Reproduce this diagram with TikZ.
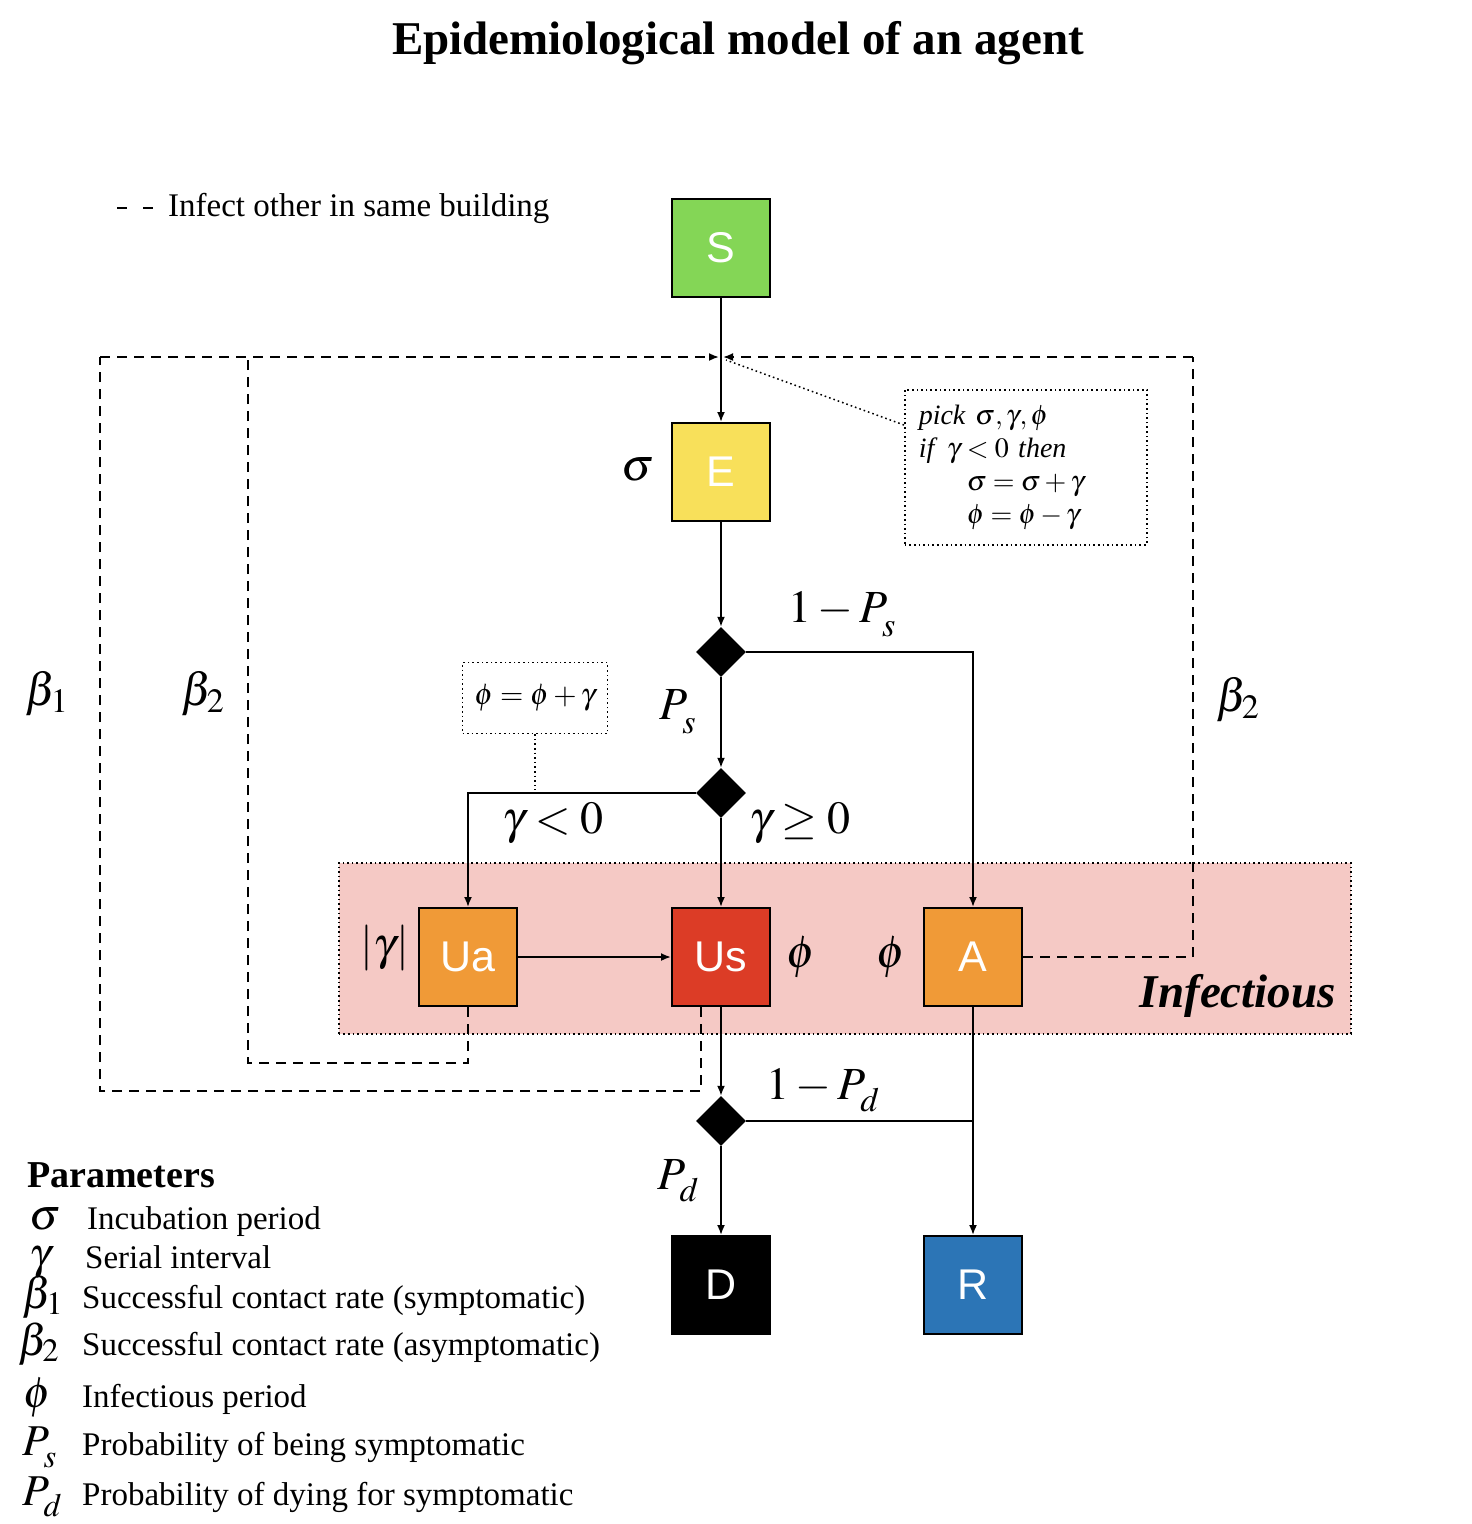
\documentclass[tikz,border=0pt]{standalone}
\usepackage{mathptmx}
\usepackage{fontspec}
\setmainfont{Liberation Serif}
\newfontfamily\boxfont{Liberation Sans}
\usetikzlibrary{arrows.meta,shapes.geometric,calc}
\definecolor{cS}{HTML}{84D656}
\definecolor{cE}{HTML}{F8E05A}
\definecolor{cO}{HTML}{F09A37}
\definecolor{cUs}{HTML}{DC3C26}
\definecolor{cR}{HTML}{2C75B6}
\definecolor{cPink}{HTML}{F5C9C5}
\newcommand{\lowsub}[2]{#1_{\lower#2\hbox{$\scriptstyle #1$}}}
\newcommand{\Psub}[2]{P_{\lower#2\hbox{$\scriptstyle #1$}}}
\tikzset{
  statebox/.style={draw=black, line width=2pt, minimum width=98pt, minimum height=98pt, inner sep=0pt, text=white, font=\boxfont\fontsize{43}{43}\selectfont},
  choice/.style={diamond, aspect=1, fill=black, minimum width=50pt, minimum height=50pt, inner sep=0pt},
  flow/.style={line width=1.8pt, -{Latex[length=10pt,width=8pt]}},
  plainflow/.style={line width=1.8pt},
  infect/.style={line width=1.8pt, dash pattern=on 10pt off 7pt},
  infectarrow/.style={infect, -{Latex[length=10pt,width=8pt]}},
  dotline/.style={line width=1.5pt, dash pattern=on 1.6pt off 3pt},
  mlab/.style={font=\fontsize{46}{50}\selectfont, inner sep=0pt},
  legtext/.style={font=\fontsize{33}{38}\selectfont, anchor=base west, inner sep=0pt},
  legsym/.style={font=\fontsize{44}{48}\selectfont, anchor=base west, inner sep=0pt},
}
\begin{document}
\begin{tikzpicture}[x=1pt,y=-1pt]
\useasboundingbox (0,0) rectangle (1472,1524);
% title
\node[font=\bfseries\fontsize{47}{52}\selectfont, inner sep=0pt] (title) at (738,43) {Epidemiological model of an agent};
% legend for dashed line
\coordinate (lg1) at (117,208);
\coordinate (lg2) at (153,208);
\draw[line width=1.8pt, dash pattern=on 10pt off 16pt] (lg1) -- (lg2);
\node[font=\fontsize{33}{38}\selectfont, anchor=west, inner sep=0pt] (lgt) at (168,208) {Infect other in same building};
% infectious region
\node[draw=black, fill=cPink, dotline, minimum width=1012pt, minimum height=171pt, anchor=north west, inner sep=0pt] (inf) at (338,862) {};
\node[font=\bfseries\itshape\fontsize{47}{50}\selectfont, anchor=east, inner sep=0pt] (inflab) at (1336,996) {Infectious};
% nodes
\node[statebox, fill=cS] (S) at (721,248) {S};
\node[statebox, fill=cE] (E) at (721,472) {E};
\node[choice] (d1) at (721,652) {};
\node[choice] (d2) at (721,793) {};
\node[statebox, fill=cO] (Ua) at (468,957) {Ua};
\node[statebox, fill=cUs] (Us) at (721,957) {Us};
\node[statebox, fill=cO] (A) at (973,957) {A};
\node[choice] (d3) at (721,1121) {};
\node[statebox, fill=black] (D) at (721,1285) {D};
\node[statebox, fill=cR] (R) at (973,1285) {R};
\coordinate (m) at (721,357);
% dashed infection paths
\draw[infect] ($(Us.south)+(-20,0)$) -- ++(0,84) coordinate (o1) -| (100,357) coordinate (o2);
\draw[infectarrow] (o2) -- ($(m)+(-2,0)$);
\draw[infect] (Ua.south) -- ++(0,56) coordinate (i1) -| (248,357);
\draw[infect] (A.east) -| (1193,357) coordinate (r1);
\draw[infectarrow] (r1) -- ($(m)+(2,0)$);
% solid flows
\draw[flow] (S.south) -- (E.north);
\draw[flow] (E.south) -- (d1.north);
\draw[flow] (d1.east) -| (A.north);
\draw[flow] (d1.south) -- (d2.north);
\draw[flow] (d2.west) -| (Ua.north);
\draw[flow] (d2.south) -- (Us.north);
\draw[flow] (Ua.east) -- (Us.west);
\draw[flow] (Us.south) -- (d3.north);
\draw[flow] (A.south) -- (R.north);
\draw[plainflow] (d3.east) -- (d3.east -| A.south);
\draw[flow] (d3.south) -- (D.north);
% note boxes
\node[draw=black, dotline, anchor=north west, minimum width=242pt, minimum height=155pt, text width=214pt, inner xsep=14pt, inner ysep=0pt, align=left, font=\fontsize{28}{33}\selectfont] (note) at (904,389)
 {\textit{pick} $\sigma,\gamma,\phi$\\
  \textit{if} $\gamma<0$ \textit{then}\\
  \hspace*{48pt}$\sigma=\sigma+\gamma$\\
  \hspace*{48pt}$\phi=\phi-\gamma$};
\draw[dotline] ($(note.north west)+(0,36)$) -- ($(m)+(5,3)$);
\node[draw=black, dotline, minimum width=145pt, minimum height=71pt, inner sep=0pt, font=\fontsize{30}{34}\selectfont] (phibox) at (535,698) {$\phi=\phi+\gamma$};
\draw[dotline] (phibox.south) -- ($(phibox.south)+(0,56)$);
% labels
\node[mlab] (lsig) at (638,470) {$\sigma$};
\node[mlab] (l1ps) at (842,614) {$1-\Psub{s}{7pt}$};
\node[mlab] (lps) at (678,712) {$\Psub{s}{7pt}$};
\node[mlab] (lgl) at (553,823) {$\gamma<0$};
\node[mlab] (lgg) at (800,823) {$\gamma\geq 0$};
\node[mlab] (lag) at (385,948) {$|\gamma|$};
\node[mlab] (lph1) at (801,957) {$\phi$};
\node[mlab] (lph2) at (891,957) {$\phi$};
\node[mlab] (l1pd) at (823,1090) {$1-\Psub{d}{5pt}$};
\node[mlab] (lpd) at (678,1181) {$\Psub{d}{5pt}$};
\node[mlab] (lb1) at (47,694) {$\beta_1$};
\node[mlab] (lb2) at (203,694) {$\beta_2$};
\node[mlab] (lb3) at (1238,700) {$\beta_2$};
% parameters legend
\node[font=\bfseries\fontsize{38}{40}\selectfont, anchor=base west, inner sep=0pt] (ptitle) at (27,1187) {Parameters};
\node[legsym] (s1) at (29,1229) {$\sigma$};
\node[legtext] (t1) at (87,1229) {Incubation period};
\node[legsym] (s2) at (29,1268) {$\gamma$};
\node[legtext] (t2) at (85,1268) {Serial interval};
\node[legsym] (s3) at (22,1308) {$\beta_1$};
\node[legtext] (t3) at (82,1308) {Successful contact rate (symptomatic)};
\node[legsym] (s4) at (18,1355) {$\beta_2$};
\node[legtext] (t4) at (82,1355) {Successful contact rate (asymptomatic)};
\node[legsym] (s5) at (23,1407) {$\phi$};
\node[legtext] (t5) at (82,1407) {Infectious period};
\node[legsym] (s6) at (22,1455) {$\Psub{s}{6pt}$};
\node[legtext] (t6) at (82,1455) {Probability of being symptomatic};
\node[legsym] (s7) at (22,1505) {$\Psub{d}{5pt}$};
\node[legtext] (t7) at (82,1505) {Probability of dying for symptomatic};
\end{tikzpicture}
\end{document}
